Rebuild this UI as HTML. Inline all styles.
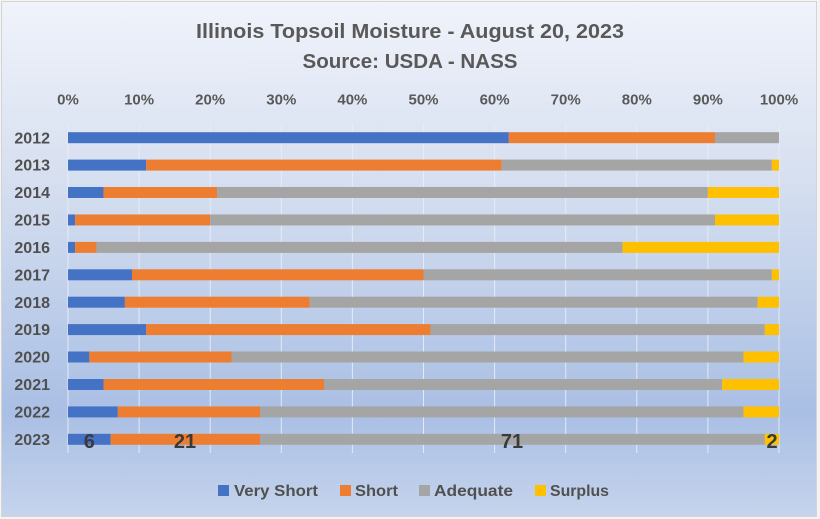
<!DOCTYPE html>
<html><head><meta charset="utf-8"><style>
html,body{margin:0;padding:0;background:#f4f4f4;}
svg{display:block;}
text{font-family:"Liberation Sans",Arial,sans-serif;font-weight:bold;}
</style></head><body>
<svg width="820" height="519" viewBox="0 0 820 519" xmlns="http://www.w3.org/2000/svg">
<defs>
<linearGradient id="bg" x1="0" y1="0" x2="0" y2="1">
<stop offset="0" stop-color="#f0f3fa"/>
<stop offset="0.35" stop-color="#d6dff0"/>
<stop offset="0.8" stop-color="#a9bfe4"/>
<stop offset="1" stop-color="#c6d4ec"/>
</linearGradient>
</defs>
<rect x="0" y="0" width="820" height="519" fill="#f4f4f4"/>
<rect x="1.5" y="1.5" width="815" height="515" fill="url(#bg)" stroke="#d4d4d4" stroke-width="1"/>

<text x="410" y="38" text-anchor="middle" font-size="20" fill="#595959" textLength="428" lengthAdjust="spacingAndGlyphs">Illinois Topsoil Moisture - August 20, 2023</text>
<text x="410" y="68" text-anchor="middle" font-size="20" fill="#595959" textLength="215" lengthAdjust="spacingAndGlyphs">Source: USDA - NASS</text>

<g font-size="15" fill="#595959" text-anchor="middle">
<text x="68" y="104.5">0%</text>
<text x="139.1" y="104.5">10%</text>
<text x="210.2" y="104.5">20%</text>
<text x="281.3" y="104.5">30%</text>
<text x="352.4" y="104.5">40%</text>
<text x="423.5" y="104.5">50%</text>
<text x="494.6" y="104.5">60%</text>
<text x="565.7" y="104.5">70%</text>
<text x="636.8" y="104.5">80%</text>
<text x="707.9" y="104.5">90%</text>
<text x="779" y="104.5">100%</text>
</g>

<g stroke="#e9eef7" stroke-width="1" opacity="0.9">
<line x1="68" y1="124" x2="68" y2="453"/>
<line x1="139.1" y1="124" x2="139.1" y2="453"/>
<line x1="210.2" y1="124" x2="210.2" y2="453"/>
<line x1="281.3" y1="124" x2="281.3" y2="453"/>
<line x1="352.4" y1="124" x2="352.4" y2="453"/>
<line x1="423.5" y1="124" x2="423.5" y2="453"/>
<line x1="494.6" y1="124" x2="494.6" y2="453"/>
<line x1="565.7" y1="124" x2="565.7" y2="453"/>
<line x1="636.8" y1="124" x2="636.8" y2="453"/>
<line x1="707.9" y1="124" x2="707.9" y2="453"/>
<line x1="779" y1="124" x2="779" y2="453"/>
</g>

<g font-size="16" fill="#505050" text-anchor="end">
<text x="50" y="143.3">2012</text>
<text x="50" y="170.7">2013</text>
<text x="50" y="198.1">2014</text>
<text x="50" y="225.5">2015</text>
<text x="50" y="253.0">2016</text>
<text x="50" y="280.4">2017</text>
<text x="50" y="307.8">2018</text>
<text x="50" y="335.2">2019</text>
<text x="50" y="362.6">2020</text>
<text x="50" y="390.1">2021</text>
<text x="50" y="417.5">2022</text>
<text x="50" y="444.9">2023</text>
</g>

<g>
<!-- 2012 -->
<rect x="68" y="132.2" width="440.82" height="11" fill="#4472C4"/>
<rect x="508.82" y="132.2" width="206.19" height="11" fill="#ED7D31"/>
<rect x="715.01" y="132.2" width="63.99" height="11" fill="#A5A5A5"/>
<!-- 2013 -->
<rect x="68" y="159.6" width="78.21" height="11" fill="#4472C4"/>
<rect x="146.21" y="159.6" width="355.5" height="11" fill="#ED7D31"/>
<rect x="501.71" y="159.6" width="270.18" height="11" fill="#A5A5A5"/>
<rect x="771.89" y="159.6" width="7.11" height="11" fill="#FFC000"/>
<!-- 2014 -->
<rect x="68" y="187.0" width="35.55" height="11" fill="#4472C4"/>
<rect x="103.55" y="187.0" width="113.76" height="11" fill="#ED7D31"/>
<rect x="217.31" y="187.0" width="490.59" height="11" fill="#A5A5A5"/>
<rect x="707.9" y="187.0" width="71.1" height="11" fill="#FFC000"/>
<!-- 2015 -->
<rect x="68" y="214.45" width="7.11" height="11" fill="#4472C4"/>
<rect x="75.11" y="214.45" width="135.09" height="11" fill="#ED7D31"/>
<rect x="210.2" y="214.45" width="504.81" height="11" fill="#A5A5A5"/>
<rect x="715.01" y="214.45" width="63.99" height="11" fill="#FFC000"/>
<!-- 2016 -->
<rect x="68" y="241.9" width="7.11" height="11" fill="#4472C4"/>
<rect x="75.11" y="241.9" width="21.33" height="11" fill="#ED7D31"/>
<rect x="96.44" y="241.9" width="526.14" height="11" fill="#A5A5A5"/>
<rect x="622.58" y="241.9" width="156.42" height="11" fill="#FFC000"/>
<!-- 2017 -->
<rect x="68" y="269.3" width="63.99" height="11" fill="#4472C4"/>
<rect x="131.99" y="269.3" width="291.51" height="11" fill="#ED7D31"/>
<rect x="423.5" y="269.3" width="348.39" height="11" fill="#A5A5A5"/>
<rect x="771.89" y="269.3" width="7.11" height="11" fill="#FFC000"/>
<!-- 2018 -->
<rect x="68" y="296.7" width="56.88" height="11" fill="#4472C4"/>
<rect x="124.88" y="296.7" width="184.86" height="11" fill="#ED7D31"/>
<rect x="309.74" y="296.7" width="447.93" height="11" fill="#A5A5A5"/>
<rect x="757.67" y="296.7" width="21.33" height="11" fill="#FFC000"/>
<!-- 2019 -->
<rect x="68" y="324.1" width="78.21" height="11" fill="#4472C4"/>
<rect x="146.21" y="324.1" width="284.4" height="11" fill="#ED7D31"/>
<rect x="430.61" y="324.1" width="334.17" height="11" fill="#A5A5A5"/>
<rect x="764.78" y="324.1" width="14.22" height="11" fill="#FFC000"/>
<!-- 2020 -->
<rect x="68" y="351.5" width="21.33" height="11" fill="#4472C4"/>
<rect x="89.33" y="351.5" width="142.2" height="11" fill="#ED7D31"/>
<rect x="231.53" y="351.5" width="511.92" height="11" fill="#A5A5A5"/>
<rect x="743.45" y="351.5" width="35.55" height="11" fill="#FFC000"/>
<!-- 2021 -->
<rect x="68" y="379.0" width="35.55" height="11" fill="#4472C4"/>
<rect x="103.55" y="379.0" width="220.41" height="11" fill="#ED7D31"/>
<rect x="323.96" y="379.0" width="398.16" height="11" fill="#A5A5A5"/>
<rect x="722.12" y="379.0" width="56.88" height="11" fill="#FFC000"/>
<!-- 2022 -->
<rect x="68" y="406.4" width="49.77" height="11" fill="#4472C4"/>
<rect x="117.77" y="406.4" width="142.2" height="11" fill="#ED7D31"/>
<rect x="259.97" y="406.4" width="483.48" height="11" fill="#A5A5A5"/>
<rect x="743.45" y="406.4" width="35.55" height="11" fill="#FFC000"/>
<!-- 2023 -->
<rect x="68" y="433.8" width="42.66" height="11" fill="#4472C4"/>
<rect x="110.66" y="433.8" width="149.31" height="11" fill="#ED7D31"/>
<rect x="259.97" y="433.8" width="504.81" height="11" fill="#A5A5A5"/>
<rect x="764.78" y="433.8" width="14.22" height="11" fill="#FFC000"/>
</g>

<g font-size="20" fill="#3a3a3a" text-anchor="middle">
<text x="89.3" y="448">6</text>
<text x="185" y="448">21</text>
<text x="512" y="448">71</text>
<text x="772" y="448">2</text>
</g>

<g font-size="16" fill="#505050">
<rect x="218" y="485" width="11" height="11" fill="#4472C4"/>
<text x="234" y="496" textLength="84" lengthAdjust="spacingAndGlyphs">Very Short</text>
<rect x="340" y="485" width="11" height="11" fill="#ED7D31"/>
<text x="355" y="496" textLength="43" lengthAdjust="spacingAndGlyphs">Short</text>
<rect x="419" y="485" width="11" height="11" fill="#A5A5A5"/>
<text x="434" y="496" textLength="79" lengthAdjust="spacingAndGlyphs">Adequate</text>
<rect x="535" y="485" width="11" height="11" fill="#FFC000"/>
<text x="550" y="496" textLength="59" lengthAdjust="spacingAndGlyphs">Surplus</text>
</g>
</svg>
</body></html>
